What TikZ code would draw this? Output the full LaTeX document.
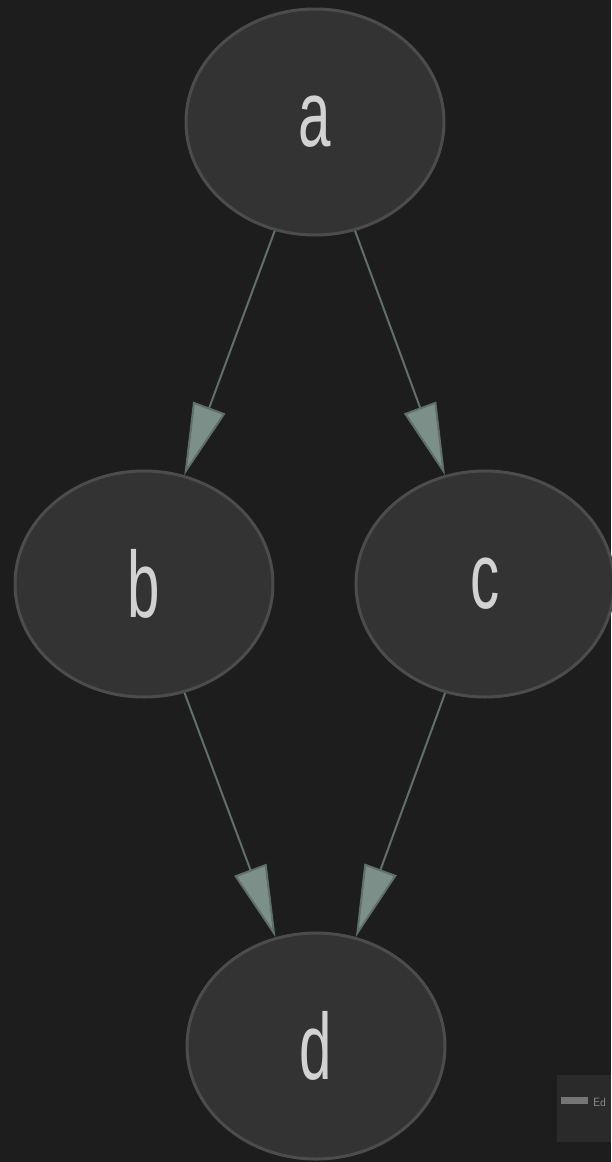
\documentclass[tikz,border=0pt]{standalone}
\usepackage{fontspec}
\usetikzlibrary{shapes.geometric,arrows.meta}
\newfontfamily\lblfont[FakeStretch=0.62]{Liberation Sans}
\definecolor{bgcol}{HTML}{1D1D1D}
\definecolor{nodefill}{HTML}{333333}
\definecolor{nodeline}{HTML}{4C4C4C}
\definecolor{txtcol}{HTML}{D2D2D2}
\definecolor{edgecol}{HTML}{5E7069}
\definecolor{headcol}{HTML}{7D8F89}
\definecolor{wmbox}{HTML}{2A2A2A}
\definecolor{wmtxt}{HTML}{8C8C8C}
\tikzset{
  gnode/.style={ellipse, draw=nodeline, fill=nodefill, line width=3pt,
    minimum width=258pt, minimum height=226pt, inner sep=0pt,
    text=txtcol, font=\lblfont\fontsize{94}{94}\selectfont},
  gedge/.style={draw=edgecol, line width=2pt,
    -{Triangle[length=72pt,width=34pt,fill=headcol]}}
}
\begin{document}
\begin{tikzpicture}[x=1pt,y=-1pt]
\useasboundingbox (0,0) rectangle (611,1162);
\fill[bgcol] (0,0) rectangle (611,1162);
\node[gnode] (a) at (315,122) {a};
\node[gnode] (b) at (144,584) {b};
\node[gnode] (c) at (485,584) {c};
\node[gnode] (d) at (316,1046) {d};
\draw[gedge] (a) -- (b);
\draw[gedge] (a) -- (c);
\draw[gedge] (b) -- (d);
\draw[gedge] (c) -- (d);
\fill[wmbox] (557,1075) rectangle (611,1142);
\fill[wmtxt!120] (561,1097) rectangle (588,1104);
\node[anchor=west, inner sep=0pt, text=wmtxt, font=\fontsize{12}{12}\selectfont\sffamily] (wm) at (593,1102) {Ed};
\end{tikzpicture}
\end{document}
